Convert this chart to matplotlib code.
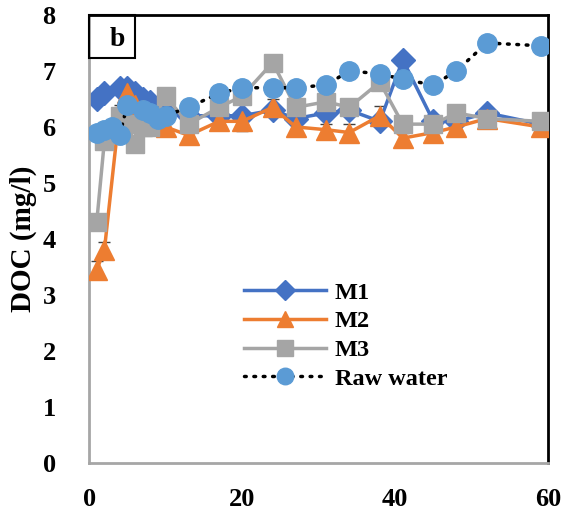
import matplotlib
matplotlib.use("Agg")
import matplotlib.pyplot as plt
from matplotlib.patches import Rectangle

# ------------------------------
# Data
# ------------------------------
days = [1, 2, 4, 5, 6, 7, 8, 10, 13, 17, 20, 24, 27, 31, 34, 38, 41, 45, 48, 52, 59]
m1 = [6.5, 6.6, 6.7, 6.7, 6.6, 6.5, 6.45, 6.25, 6.2, 6.2, 6.2, 6.3, 6.15, 6.25, 6.3, 6.1, 7.2, 6.1, 6.1, 6.25, 6.05]
m2 = [3.45, 3.8, 6.3, 6.6, 6.4, 6.3, 6.2, 6.0, 5.85, 6.1, 6.1, 6.35, 6.0, 5.95, 5.9, 6.2, 5.8, 5.9, 6.0, 6.15, 6.0]
m2_err = [0.15, 0.15, 0.1, 0.1, 0.1, 0.1, 0.1, 0.1, 0.1, 0.12, 0.18, 0.15, 0.1, 0.1, 0.15, 0.18, 0.1, 0.1, 0.1, 0.1, 0.1]
m3 = [4.3, 5.75, 6.2, 6.05, 5.7, 6.0, 6.0, 6.55, 6.05, 6.35, 6.55, 7.15, 6.35, 6.45, 6.35, 6.8, 6.05, 6.05, 6.25, 6.15, 6.1]

raw_days = [1, 2, 3, 4, 5, 7, 8, 9, 10, 13, 17, 20, 24, 27, 31, 34, 38, 41, 45, 48, 52, 59]
raw = [5.9, 5.95, 6.0, 5.85, 6.4, 6.3, 6.25, 6.15, 6.2, 6.35, 6.6, 6.7, 6.7, 6.7, 6.75, 7.0, 6.95, 6.85, 6.75, 7.0, 7.5, 7.45]

x_ticks = [0, 20, 40, 60]
y_ticks = [0, 1, 2, 3, 4, 5, 6, 7, 8]

# ------------------------------
# Figure
# ------------------------------
plt.rcParams['font.family'] = ['Liberation Serif', 'DejaVu Serif']
plt.rcParams['font.weight'] = 'bold'

fig = plt.figure(figsize=(5.71, 5.16), dpi=100)
ax = fig.add_axes([0.156, 0.103, 0.804, 0.868])

ax.errorbar(days, m2, yerr=m2_err, fmt='none', ecolor='#404040', elinewidth=0.8, capsize=4, zorder=1)
ax.plot(days, m1, color='#4472C4', lw=2.5, marker='D', ms=12, label='M1', zorder=2)
ax.plot(days, m2, color='#ED7D31', lw=2.5, marker='^', ms=14, label='M2', zorder=3)
ax.plot(days, m3, color='#A5A5A5', lw=2.5, marker='s', ms=13, label='M3', zorder=4)
ax.plot(raw_days, raw, color='black', lw=2.5, ls=(0, (0.5, 2.2)), dash_capstyle='round',
        marker='o', ms=14, mfc='#5B9BD5', mec='#5B9BD5', label='Raw water', zorder=5)

ax.set_xlim(0, 60)
ax.set_ylim(0, 8)
ax.set_xticks(x_ticks)
ax.set_yticks(y_ticks)
ax.tick_params(axis='both', length=0, labelsize=19)
ax.tick_params(axis='y', pad=24)
ax.tick_params(axis='x', pad=18)
ax.set_ylabel('DOC (mg/l)', fontsize=21, fontweight='bold', labelpad=4)

for side in ['left', 'bottom']:
    ax.spines[side].set_color('#A6A6A6')
    ax.spines[side].set_linewidth(2)
for side in ['top', 'right']:
    ax.spines[side].set_color('black')
    ax.spines[side].set_linewidth(2)

# panel label box
ax.add_patch(Rectangle((0, 0.904), 0.1, 0.096, transform=ax.transAxes, fill=False,
                       edgecolor='black', lw=1.5, zorder=6, clip_on=False))
ax.text(0.062, 0.93, 'b', transform=ax.transAxes, ha='center', va='baseline',
        fontsize=20, fontweight='bold', zorder=7)

ax.legend(loc='upper left', bbox_to_anchor=(0.31, 0.432), frameon=False, fontsize=17.5,
          handlelength=3.4, handletextpad=0.35, labelspacing=0.28, borderpad=0, markerscale=0.85)

fig.savefig('out.png', dpi=100)
